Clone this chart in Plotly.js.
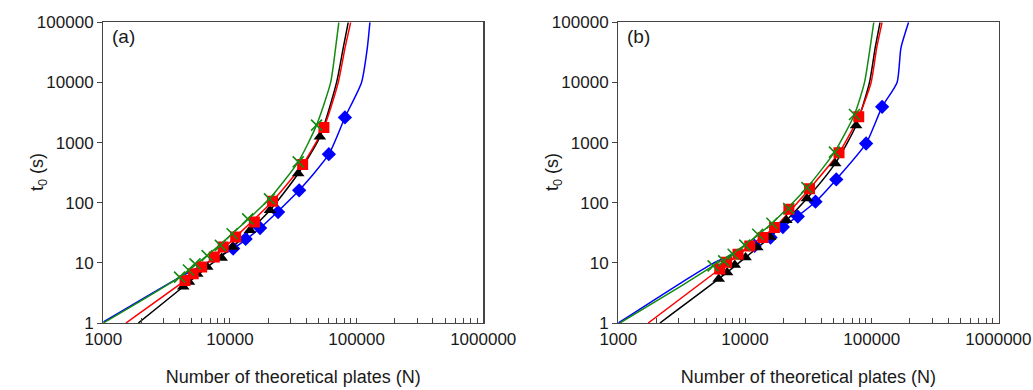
<!DOCTYPE html>
<html>
<head>
<meta charset="utf-8">
<script src="https://cdn.plot.ly/plotly-3.0.1.min.js"></script>
<style>html,body{margin:0;padding:0;background:#fff;}#chart{width:1033px;height:390px;}</style>
</head>
<body>
<div id="chart"></div>
<script>
// ---------- Panel (a) data: markers ----------
const aBlackN = [4280, 4750, 5520, 6620, 8600, 10500, 14400, 20700, 34600, 51300];
const aBlackT = [4.0, 4.8, 6.5, 8.5, 12.1, 18.4, 34.9, 75, 306, 1245];
const aRedN = [4420, 5130, 5980, 7520, 8850, 11100, 15600, 21700, 37500, 55200];
const aRedT = [5.1, 6.6, 8.5, 12.5, 18.4, 27, 48, 106, 432, 1783];
const aGreenN = [4000, 4700, 5300, 6600, 8400, 10400, 13800, 20500, 34600, 48300];
const aGreenT = [5.8, 7.6, 9.6, 13.2, 19.5, 30.5, 54, 116, 478, 1950];
const aBlueN = [10600, 13300, 17300, 24000, 35200, 60400, 80900];
const aBlueT = [17.3, 25, 38, 70, 161, 641, 2617];
// ---------- Panel (a) data: model curves ----------
const aBlackFitN = [1890, 4280, 6620, 10500, 20700, 34600, 51300, 69500, 78300, 85900];
const aBlackFitT = [1, 4.0, 8.5, 18.4, 75, 306, 1245, 10000, 36800, 100000];
const aRedFitN = [1510, 4420, 7520, 11100, 21700, 37500, 55200, 71600, 80900, 89800];
const aRedFitT = [1, 5.1, 12.5, 27, 106, 432, 1783, 10000, 36800, 100000];
const aGreenFitN = [1000, 4000, 6600, 10400, 20500, 34600, 48300, 62400, 68200, 72400];
const aGreenFitT = [1, 5.8, 13.2, 30.5, 116, 478, 1950, 10000, 36800, 100000];
const aBlueFitN = [1000, 4030, 10600, 17300, 35200, 60400, 80900, 109400, 121400, 127400];
const aBlueFitT = [1.04, 5.8, 17.3, 38, 161, 641, 2617, 10000, 36800, 100000];

// ---------- Panel (b) data: markers ----------
const bBlackN = [6200, 7220, 8300, 10100, 12500, 15800, 21200, 30800, 51500, 75300];
const bBlackT = [5.4, 6.9, 9.2, 12.3, 18, 27, 51, 117, 450, 1922];
const bRedN = [6320, 7150, 8810, 10900, 13900, 17100, 22200, 32300, 55200, 79000];
const bRedT = [7.9, 10.2, 13.9, 19.1, 26.4, 38.6, 77.8, 171, 677, 2680];
const bGreenN = [5600, 6790, 8050, 9950, 12600, 16300, 22100, 30800, 50800, 73100];
const bGreenT = [8.9, 10.8, 13.9, 19.7, 29.9, 45.5, 80, 178, 693, 2925];
const bBlueN = [11900, 15900, 19900, 26100, 36000, 52500, 90300, 120800];
const bBlueT = [19.1, 26.4, 39.5, 58.8, 104, 244, 966, 3925];
// ---------- Panel (b) data: model curves ----------
const bBlackFitN = [2130, 6200, 10100, 15800, 30800, 51500, 75300, 96000, 106400, 116400];
const bBlackFitT = [1, 5.4, 12.3, 27, 117, 450, 1922, 10000, 37300, 100000];
const bRedFitN = [1722, 6320, 10900, 17100, 32300, 55200, 79000, 98900, 109400, 120700];
const bRedFitT = [1, 7.9, 19.1, 38.6, 171, 677, 2680, 10000, 37300, 100000];
const bGreenFitN = [1030, 3150, 5600, 9950, 16300, 30800, 50800, 73100, 87700, 97000, 103800];
const bGreenFitT = [1, 4.16, 8.9, 19.7, 45.5, 178, 693, 2925, 10000, 37300, 100000];
const bBlueFitN = [1000, 3150, 5770, 11900, 19900, 36000, 52500, 90300, 120800, 158500, 170000, 195400];
const bBlueFitT = [1, 4.7, 10.2, 19.1, 39.5, 104, 244, 966, 3925, 10000, 37300, 100000];

// ---------- labels ----------
const xTitle = 'Number of theoretical plates (N)';
const yTitle = 't<sub>0</sub> (s)';
const panelLabels = ['(a)', '(b)'];

const colors = {black: '#000000', red: '#ff0000', green: '#138a13', blue: '#0000ff'};

function lineTrace(x, y, color, xa, ya) {
  return {x: x, y: y, mode: 'lines', xaxis: xa, yaxis: ya, showlegend: false, hoverinfo: 'skip',
    line: {color: color, width: 1.5, shape: 'spline', smoothing: 0.6}};
}
function markerTrace(x, y, color, symbol, xa, ya) {
  const m = {color: color, size: 11, symbol: symbol};
  if (symbol.indexOf('thin') >= 0) { m.line = {color: color, width: 1.6}; m.size = 11; }
  else { m.line = {width: 0}; }
  return {x: x, y: y, mode: 'markers', xaxis: xa, yaxis: ya, showlegend: false, marker: m};
}

const traces = [];
[['x', 'y', [aBlueFitN, aBlueFitT, aBlueN, aBlueT], [aBlackFitN, aBlackFitT, aBlackN, aBlackT],
   [aRedFitN, aRedFitT, aRedN, aRedT], [aGreenFitN, aGreenFitT, aGreenN, aGreenT]],
 ['x2', 'y2', [bBlueFitN, bBlueFitT, bBlueN, bBlueT], [bBlackFitN, bBlackFitT, bBlackN, bBlackT],
   [bRedFitN, bRedFitT, bRedN, bRedT], [bGreenFitN, bGreenFitT, bGreenN, bGreenT]]
].forEach(p => {
  const xa = p[0], ya = p[1];
  const sets = [[p[2], colors.blue, 'diamond'], [p[3], colors.black, 'triangle-up'],
                [p[4], colors.red, 'square'], [p[5], colors.green, 'x-thin']];
  sets.forEach(s => traces.push(lineTrace(s[0][0], s[0][1], s[1], xa, ya)));
  sets.forEach(s => traces.push(markerTrace(s[0][2], s[0][3], s[1], s[2], xa, ya)));
});

const font = {family: 'Liberation Sans, Arial, sans-serif', size: 17, color: '#1a1a1a'};
function xAxis(domain, anchor) {
  return {type: 'log', range: [3, 6.0005], domain: domain, anchor: anchor,
    showline: true, linecolor: '#444', linewidth: 1.3, mirror: true, showgrid: false, zeroline: false,
    ticks: 'inside', ticklen: 5, tickwidth: 1, tickcolor: '#444', dtick: 1, tickformat: 'd',
    minor: {ticks: 'inside', ticklen: 5, tickwidth: 1, tickcolor: '#444', dtick: 'D1', showgrid: false},
    tickfont: font, title: {text: xTitle, font: {family: font.family, size: 18, color: '#1a1a1a'}, standoff: 22}};
}
function yAxis(domain, anchor) {
  return {type: 'log', range: [0, 5], domain: domain, anchor: anchor,
    showline: true, linecolor: '#444', linewidth: 1.3, mirror: true, showgrid: false, zeroline: false,
    ticks: 'outside', ticklen: 5, tickwidth: 1, tickcolor: '#444', dtick: 1, tickformat: 'd',
    tickfont: font};
}
const yDom = [1 - 323 / 390, 1 - 22.3 / 390];
const layout = {
  width: 1033, height: 390, margin: {l: 0, r: 0, t: 0, b: 0},
  separators: '.', 
  paper_bgcolor: '#fff', plot_bgcolor: '#fff', font: font,
  xaxis: xAxis([103.3 / 1033, 483.3 / 1033], 'y'),
  yaxis: yAxis(yDom, 'x'),
  xaxis2: xAxis([618.3 / 1033, 998.5 / 1033], 'y2'),
  yaxis2: yAxis(yDom, 'x2'),
  annotations: [
    {text: yTitle, xref: 'paper', yref: 'paper', x: 38 / 1033, y: 1 - 172 / 390, textangle: -90,
     showarrow: false, xanchor: 'center', yanchor: 'middle', font: {family: font.family, size: 18, color: '#1a1a1a'}},
    {text: yTitle, xref: 'paper', yref: 'paper', x: 553 / 1033, y: 1 - 172 / 390, textangle: -90,
     showarrow: false, xanchor: 'center', yanchor: 'middle', font: {family: font.family, size: 18, color: '#1a1a1a'}},
    {text: panelLabels[0], xref: 'paper', yref: 'paper', x: 110 / 1033, y: 1 - 36 / 390, showarrow: false,
     xanchor: 'left', yanchor: 'middle', font: {family: font.family, size: 19, color: '#1a1a1a'}},
    {text: panelLabels[1], xref: 'paper', yref: 'paper', x: 625 / 1033, y: 1 - 36 / 390, showarrow: false,
     xanchor: 'left', yanchor: 'middle', font: {family: font.family, size: 19, color: '#1a1a1a'}}
  ]
};
Plotly.newPlot('chart', traces, layout, {displayModeBar: false, staticPlot: true});
</script>
</body>
</html>
